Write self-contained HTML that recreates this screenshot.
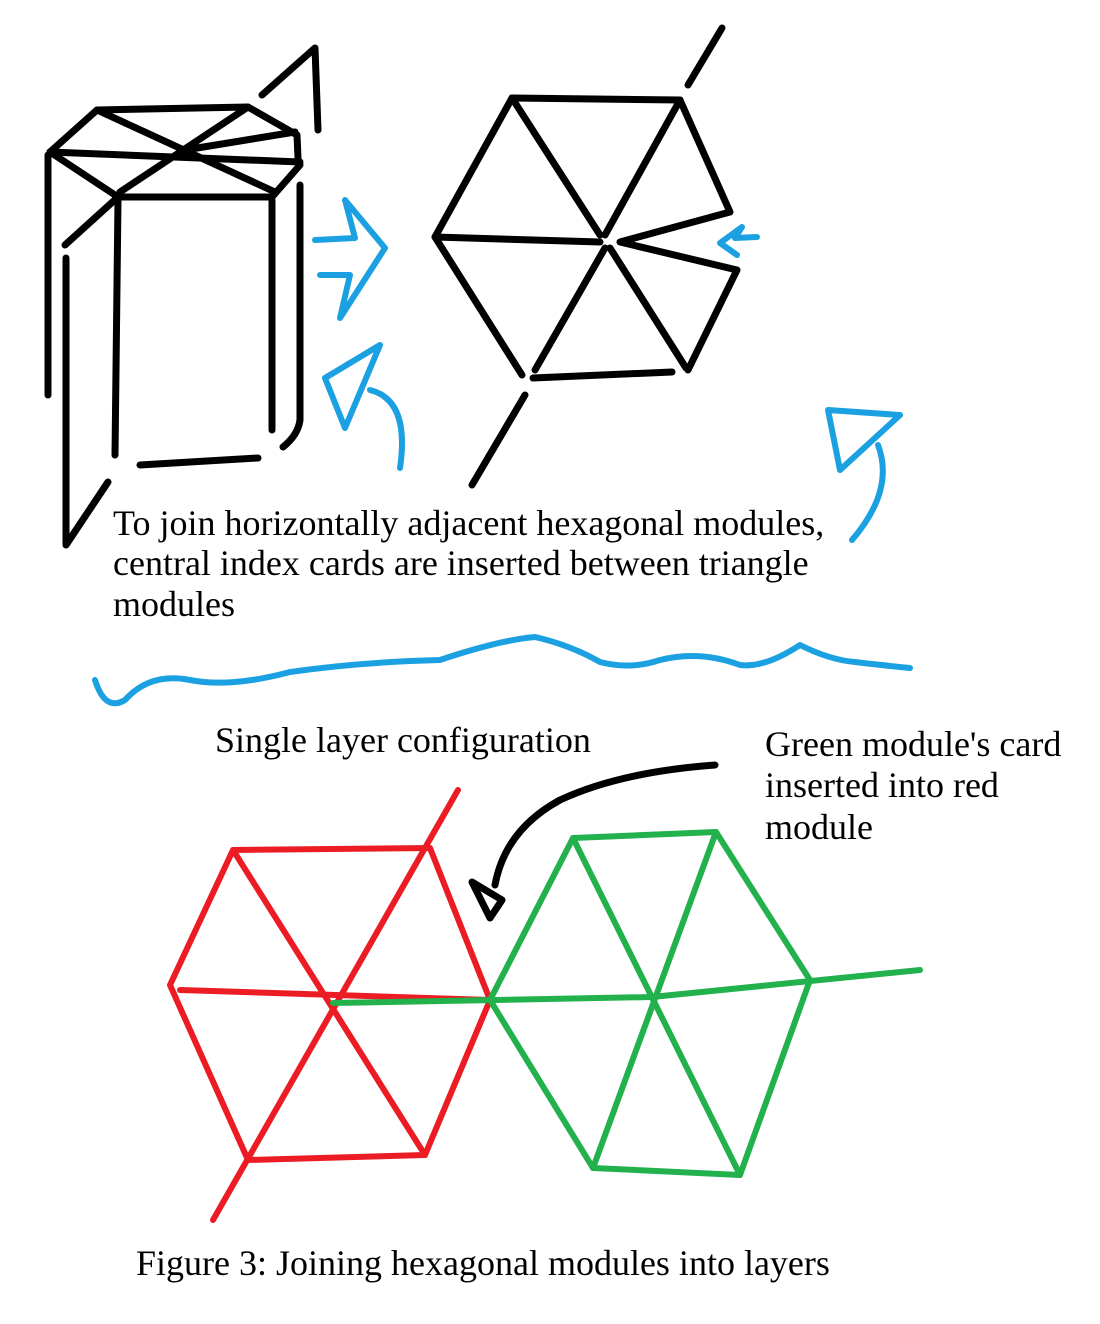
<!DOCTYPE html>
<html><head><meta charset="utf-8"><style>
html,body{margin:0;padding:0;background:#fff;}
svg{display:block}
text{font-family:"Liberation Serif",serif;font-size:36px;fill:#000}
</style></head><body>
<svg width="1100" height="1324" viewBox="0 0 1100 1324">
<g fill="none" stroke="#000" stroke-width="7" stroke-linecap="round" stroke-linejoin="round">
<path d="M50 152 L97 110 L248 107 L297 135 L298 158"/>
<path d="M50 152 L300 162"/>
<path d="M50 152 L118 197 L272 197 L300 165"/>
<path d="M97 110 L275 192"/>
<path d="M248 107 L120 192"/>
<path d="M65 245 L118 197"/>
<path d="M185 150 L295 132"/>
<path d="M48 155 L48 395"/>
<path d="M66 258 L66 545 L108 482"/>
<path d="M118 200 L115 455"/>
<path d="M272 200 L272 430"/>
<path d="M300 185 L300 420 Q298 435 283 447"/>
<path d="M140 465 L258 458"/>
<path d="M262 95 L315 48 L318 130"/>
</g>
<g fill="none" stroke="#000" stroke-width="7" stroke-linecap="round" stroke-linejoin="round">
<path d="M512 98 L680 100 L730 212 L620 242 L737 270 L688 370"/>
<path d="M512 98 L435 237 L522 375"/>
<path d="M533 378 L672 372"/>
<path d="M512 98 L600 235"/>
<path d="M680 100 L605 235"/>
<path d="M435 237 L600 242"/>
<path d="M605 248 L535 370"/>
<path d="M610 248 L686 368"/>
<path d="M688 85 L722 28"/>
<path d="M525 395 L472 485"/>
</g>
<g fill="none" stroke="#1ba1e2" stroke-width="6" stroke-linecap="round" stroke-linejoin="round">
<path d="M315 240 L355 238 L345 200 L385 248 L340 318 L350 275 L320 275"/>
<path d="M400 468 Q410 400 370 390"/>
<path d="M380 345 L325 378 L345 428 Z"/>
<path d="M852 540 Q895 490 878 445"/>
<path d="M828 410 L900 415 L840 470 Z"/>
<path d="M757 237 L735 238 L742 227 L720 243 L737 255"/>
</g>
<text x="113" y="535">To join horizontally adjacent hexagonal modules,</text>
<text x="113" y="575">central index cards are inserted between triangle</text>
<text x="113" y="616">modules</text>
<path fill="none" stroke="#1ba1e2" stroke-width="6" stroke-linecap="round" stroke-linejoin="round" d="M95 680 Q105 712 125 700 Q150 672 190 680 Q230 688 290 672 Q360 662 440 660 Q500 640 535 637 Q570 645 600 662 Q630 670 660 660 Q700 650 740 665 Q765 668 800 645 Q830 660 855 662 Q880 665 910 668"/>
<text x="215" y="752">Single layer configuration</text>
<text x="765" y="756">Green module's card</text>
<text x="765" y="797">inserted into red</text>
<text x="765" y="839">module</text>
<g fill="none" stroke="#000" stroke-width="7" stroke-linecap="round" stroke-linejoin="round">
<path d="M715 765 Q620 772 560 800 Q505 830 495 885"/>
<path d="M472 882 L502 900 L490 918 Z"/>
</g>
<g fill="none" stroke="#ec1c24" stroke-width="6" stroke-linecap="round" stroke-linejoin="round">
<path d="M233 850 L430 848 L490 1000 L425 1155 L248 1160 L170 985 Z"/>
<path d="M458 790 L213 1220"/>
<path d="M180 990 L490 1000"/>
<path d="M233 850 L425 1155"/>
</g>
<g fill="none" stroke="#22b14c" stroke-width="6" stroke-linecap="round" stroke-linejoin="round">
<path d="M573 838 L716 832 L810 980 L740 1175 L593 1168 L490 1000 Z"/>
<path d="M333 1003 L652 997 L920 970"/>
<path d="M573 838 L740 1175"/>
<path d="M716 832 L593 1168"/>
</g>
<text x="136" y="1275">Figure 3: Joining hexagonal modules into layers</text>
</svg>
</body></html>
